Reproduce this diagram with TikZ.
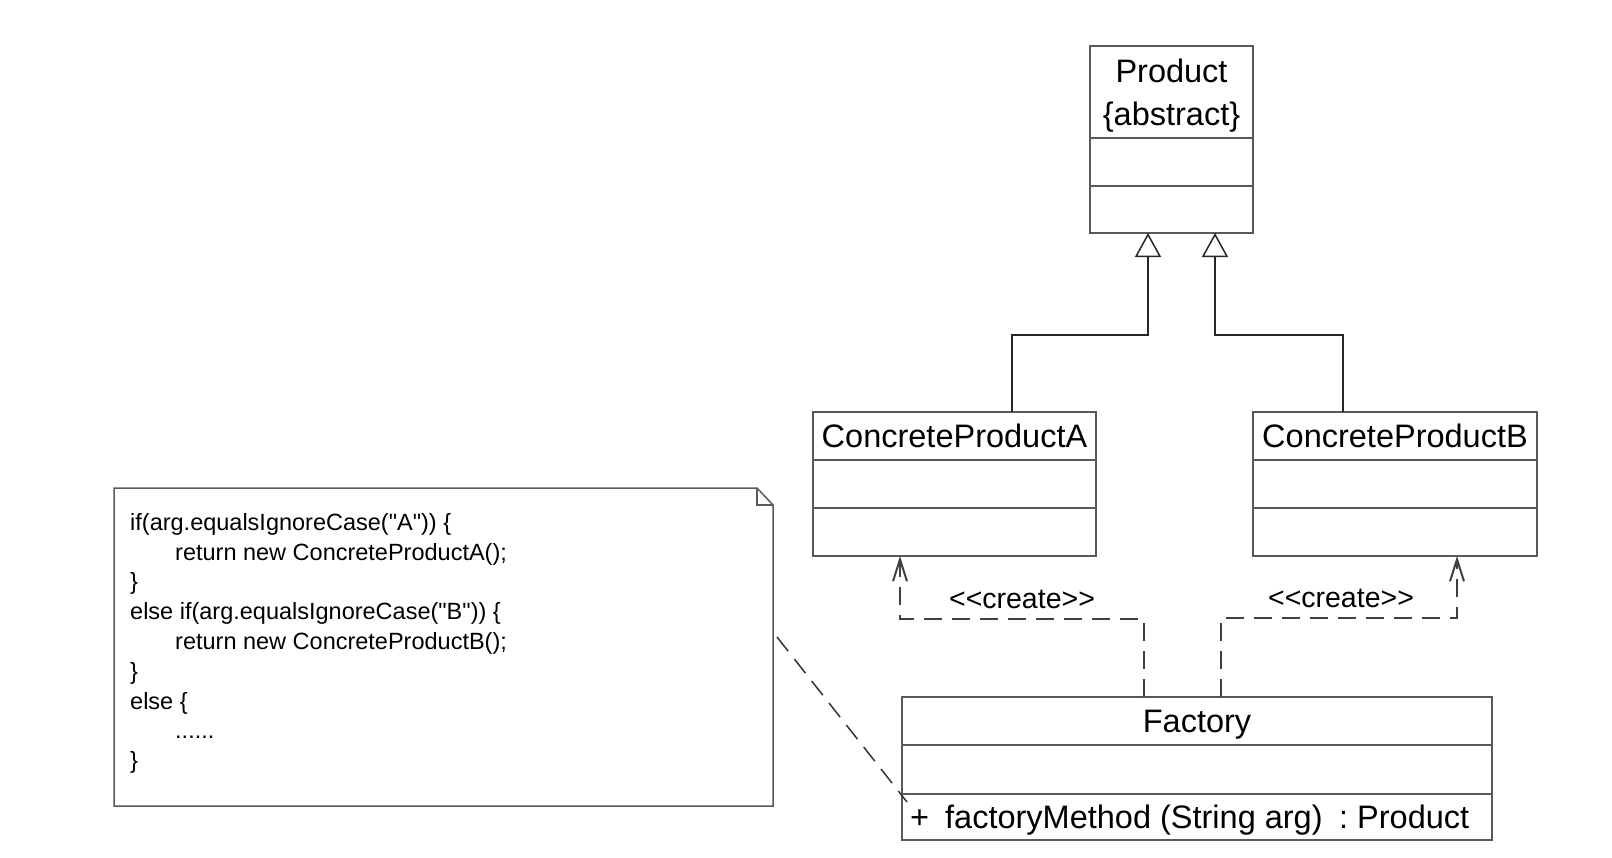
\documentclass[tikz,border=0pt]{standalone}
\usepackage{fontspec}
\setmainfont{Liberation Sans}
\newfontfamily\codefont[Ligatures=TeXOff]{Liberation Sans}
\usetikzlibrary{positioning,arrows.meta,calc}

\tikzset{
  classpart/.style={draw=black!65, line width=1.5pt, fill=white,
    inner sep=0pt, outer sep=0pt},
  classname/.style={classpart, align=center, text depth=0pt,
    font=\fontsize{32.5}{43}\selectfont},
  opertext/.style={inner sep=0pt, font=\fontsize{32.5}{39}\selectfont},
  notebox/.style={draw=black!65, line width=1.5pt, line join=miter},
  codetext/.style={align=left, inner sep=0pt,
    font=\codefont\fontsize{23.5}{29.8}\selectfont},
  createlbl/.style={inner sep=0pt, font=\fontsize{28.5}{34}\selectfont},
  gen/.style={draw=black!85, line width=2pt,
    -{Triangle[open, length=24pt, width=26pt, line width=1.5pt]}},
  dep/.style={draw=black!75, line width=2pt, dash pattern=on 18pt off 10pt,
    -{Straight Barb[length=22pt, width=14pt, line width=2pt]}},
  notelink/.style={draw=black!80, line width=1.5pt,
    dash pattern=on 18pt off 10pt}
}

\begin{document}
\begin{tikzpicture}[x=1pt, y=-1pt]
  \useasboundingbox (0,0) rectangle (1612,857);
  % Abstract product class
  \node[classname, minimum width=163pt, minimum height=92pt]
    (prodname) at (1171.5,92) {Product\\\{abstract\}};
  \node[classpart, minimum width=163pt, minimum height=48pt,
    below=0pt of prodname] (prodattr) {};
  \node[classpart, minimum width=163pt, minimum height=47pt,
    below=0pt of prodattr] (prodop) {};
  % Concrete products
  \node[classname, minimum width=283pt, minimum height=48pt]
    (cpaname) at (954.5,436) {ConcreteProductA};
  \node[classpart, minimum width=283pt, minimum height=48pt,
    below=0pt of cpaname] (cpaattr) {};
  \node[classpart, minimum width=283pt, minimum height=48pt,
    below=0pt of cpaattr] (cpaop) {};
  \node[classname, minimum width=284pt, minimum height=48pt]
    (cpbname) at (1395,436) {ConcreteProductB};
  \node[classpart, minimum width=284pt, minimum height=48pt,
    below=0pt of cpbname] (cpbattr) {};
  \node[classpart, minimum width=284pt, minimum height=48pt,
    below=0pt of cpbattr] (cpbop) {};
  % Factory class with its one operation
  \node[classname, minimum width=590pt, minimum height=48pt]
    (facname) at (1197,721) {Factory};
  \node[classpart, minimum width=590pt, minimum height=49pt,
    below=0pt of facname] (facattr) {};
  \node[classpart, minimum width=590pt, minimum height=46pt,
    below=0pt of facattr] (facop) {};
  \node[opertext, anchor=base west] (facmeth) at (910,828)
    {+\hspace{16pt}factoryMethod (String arg)\hspace{16.5pt}:\ Product};
  % Note with folded corner
  \node[minimum width=659pt, minimum height=318pt, inner sep=0pt,
    outer sep=0pt] (note) at (443.5,647) {};
  \draw[notebox] (note.south west) -- (note.north west)
    -- ([xshift=-16pt]note.north east) -- ([yshift=-17pt]note.north east)
    -- (note.south east) -- cycle;
  \draw[notebox] ([xshift=-16pt]note.north east) -- ++(0,17) -- ++(16,0);
  \node[codetext, anchor=north west] (code) at (130,513) {%
    if(arg.equalsIgnoreCase("A")) \{\\
    \hspace*{45pt}return new ConcreteProductA();\\
    \}\\
    else if(arg.equalsIgnoreCase("B")) \{\\
    \hspace*{45pt}return new ConcreteProductB();\\
    \}\\
    else \{\\
    \hspace*{45pt}......\\
    \}};
  % Generalizations
  \coordinate (bendGA) at (1148,335);
  \coordinate (bendGB) at (1215,335);
  \draw[gen] (cpaname.north -| 1012,0) |- (bendGA) -- (prodop.south -| bendGA);
  \draw[gen] (cpbname.north -| 1343,0) |- (bendGB) -- (prodop.south -| bendGB);
  % Create dependencies
  \coordinate (bendA) at (1144,619);
  \coordinate (tipA) at (900,556);
  \coordinate (bendB) at (1221,618);
  \coordinate (tipB) at (1457,556);
  \draw[dep] (facname.north -| bendA) -- (bendA) -| (cpaop.south -| tipA);
  \draw[dep] (facname.north -| bendB) -- (bendB) -| (cpbop.south -| tipB);
  \node[createlbl] (crA) at (1022,599) {<{}<create>{}>};
  \node[createlbl] (crB) at (1341,598) {<{}<create>{}>};
  % Note attached to the factory method
  \draw[notelink] ($(note.east)+(4,-10)$) -- ($(facop.west)+(5,-15)$);
\end{tikzpicture}
\end{document}
